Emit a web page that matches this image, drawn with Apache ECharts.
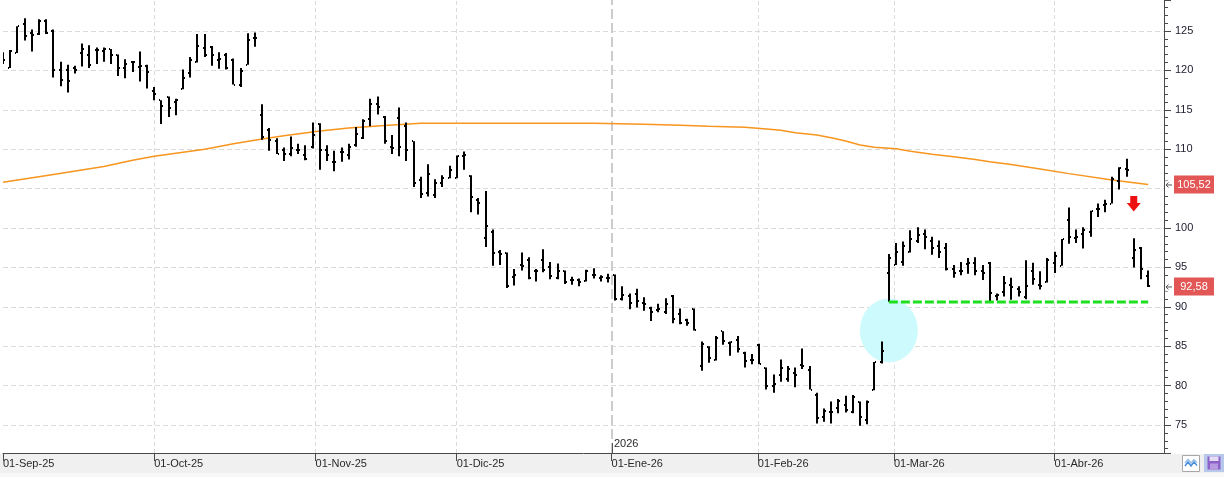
<!DOCTYPE html>
<html>
<head>
<meta charset="utf-8">
<script src="https://cdn.jsdelivr.net/npm/echarts@6/dist/echarts.min.js"></script>
<style>
html, body { margin: 0; padding: 0; background: #fff; }
#band { position: absolute; left: 0; top: 454px; width: 1224px; height: 19px; background: #f0f0f0; }
#band2 { position: absolute; left: 0; top: 473px; width: 1224px; height: 4px; background: #f8f8f8; }
#c { position: absolute; left: 0; top: 0; width: 1224px; height: 477px; }
</style>
</head>
<body>
<div id="band"></div>
<div id="band2"></div>
<div id="c"></div>
<script>
// daily OHLC, one bar per trading day (01-Sep-25 .. 21-Abr-26)
var opens = [
  121.8, 120.3, 122.2, 125.9, 124.7, 124.6, 126.3, 125.0, 120.1, 120.1,
  120.3, 122.2, 122.0, 122.6, 122.4, 122.7, 121.9, 120.3, 121.1, 120.4,
  120.6, 117.4, 116.2, 116.6, 116.0, 117.7, 119.7, 121.1, 122.8, 123.0,
  121.3, 122.0, 121.3, 118.2, 120.7, 124.1, 114.3, 112.4, 111.1, 109.9,
  109.4, 109.9, 109.3, 110.3, 113.2, 109.9, 108.4, 109.7, 109.3, 110.5,
  111.4, 113.8, 115.7, 114.1, 110.3, 113.9, 112.9, 111.0, 106.1, 104.4,
  104.2, 105.7, 106.4, 106.4, 109.1, 106.6, 103.5, 98.7, 99.5, 97.0,
  96.8, 93.8, 95.3, 95.9, 94.5, 95.9, 95.1, 93.6, 94.5, 93.4,
  93.4, 93.3, 94.0, 93.6, 93.6, 94.0, 91.0, 91.4, 91.6, 90.5,
  89.9, 89.6, 89.3, 91.4, 89.1, 88.3, 89.7, 82.5, 84.9, 83.3,
  86.9, 85.4, 85.8, 84.2, 83.2, 85.2, 82.2, 80.0, 81.4, 80.8,
  81.6, 82.6, 82.0, 78.8, 76.0, 76.6, 77.1, 77.5, 76.7, 77.9,
  75.7, 79.4, 83.0, 94.3, 95.3, 95.7, 97.0, 98.3, 99.3, 98.3,
  97.7, 97.4, 94.8, 94.5, 95.4, 95.5, 94.5, 95.5, 91.4, 91.9,
  92.8, 92.3, 91.2, 94.5, 92.8, 93.2, 95.6, 95.2, 101.0, 98.7,
  99.2, 99.5, 102.4, 102.9, 103.1, 106.0, 107.5, 96.2, 97.4, 93.9
]
var highs = [
  122.3, 122.6, 125.6, 126.6, 125.2, 126.5, 126.5, 125.2, 121.1, 120.7,
  120.6, 123.4, 123.2, 122.9, 122.9, 122.7, 122.0, 121.4, 121.2, 122.4,
  120.7, 117.9, 116.2, 116.7, 116.4, 120.1, 121.7, 124.6, 124.6, 123.1,
  122.3, 122.2, 121.5, 120.3, 124.7, 124.8, 115.7, 112.7, 111.4, 110.2,
  111.6, 110.7, 110.5, 113.4, 113.3, 110.5, 109.8, 110.2, 110.7, 112.8,
  113.8, 116.4, 116.7, 114.2, 111.8, 115.3, 113.4, 111.0, 106.5, 108.1,
  106.2, 106.7, 107.9, 109.2, 109.7, 106.7, 103.8, 104.7, 99.8, 97.2,
  96.9, 94.8, 96.9, 96.3, 94.8, 97.3, 95.7, 95.5, 94.6, 93.8,
  93.6, 94.7, 94.9, 94.0, 94.2, 94.1, 92.6, 91.7, 92.3, 91.2,
  90.0, 90.4, 91.1, 91.5, 89.8, 88.5, 89.8, 85.6, 85.0, 86.3,
  86.9, 85.6, 86.3, 84.3, 84.0, 85.3, 82.3, 81.4, 83.3, 82.5,
  82.3, 84.7, 82.5, 79.1, 77.1, 78.0, 78.3, 78.7, 78.8, 78.0,
  78.1, 83.0, 85.6, 96.7, 98.1, 98.3, 99.7, 100.1, 99.8, 98.9,
  98.4, 98.1, 95.3, 95.7, 96.2, 96.3, 95.3, 95.7, 91.7, 93.9,
  93.7, 92.6, 95.9, 95.6, 94.5, 96.2, 97.0, 98.6, 102.6, 99.8,
  100.1, 102.2, 103.1, 103.6, 106.5, 107.7, 108.8, 98.7, 97.6, 94.6
]
var lows = [
  120.8, 120.3, 122.2, 123.8, 122.4, 124.5, 124.6, 119.1, 118.0, 117.2,
  119.6, 120.5, 120.3, 120.8, 121.1, 120.8, 119.3, 119.0, 119.8, 118.6,
  117.7, 116.2, 113.2, 114.1, 114.3, 117.6, 119.1, 121.0, 121.7, 120.6,
  120.2, 120.1, 118.2, 117.9, 120.7, 123.0, 111.2, 109.8, 109.4, 108.5,
  109.1, 109.4, 108.6, 110.1, 107.4, 108.5, 107.2, 108.4, 108.7, 110.3,
  111.3, 112.9, 114.4, 110.7, 109.4, 109.1, 108.5, 105.2, 103.8, 104.0,
  103.8, 105.2, 106.3, 106.3, 107.4, 102.0, 101.7, 97.6, 95.2, 95.3,
  92.4, 92.7, 94.6, 93.5, 93.2, 94.4, 93.5, 93.5, 92.9, 92.8,
  92.6, 93.2, 93.6, 93.2, 93.1, 90.8, 90.8, 89.7, 89.9, 89.5,
  88.2, 89.3, 89.1, 87.9, 87.8, 87.6, 87.0, 81.9, 82.9, 83.2,
  85.2, 83.8, 84.2, 82.3, 82.7, 82.7, 79.5, 79.1, 80.5, 80.5,
  79.8, 82.1, 79.5, 75.2, 75.4, 75.2, 76.5, 76.6, 76.5, 74.9,
  75.1, 79.4, 82.8, 90.65, 95.3, 95.2, 96.9, 98.1, 97.3, 96.6,
  96.2, 94.6, 93.7, 94.0, 94.2, 94.0, 93.4, 90.65, 90.8, 91.3,
  90.9, 91.3, 90.95, 92.8, 92.2, 93.1, 94.3, 95.2, 98.0, 98.1,
  97.4, 98.9, 101.4, 102.0, 103.1, 104.9, 106.5, 95.0, 93.5, 92.5
]
var closes = [
  121.3, 122.5, 125.6, 124.4, 124.5, 126.3, 124.7, 120.1, 118.8, 118.7,
  120.1, 122.7, 120.7, 122.6, 122.7, 121.9, 120.3, 120.8, 121.0, 120.6,
  119.8, 117.0, 115.5, 115.2, 116.2, 119.0, 121.3, 123.1, 122.0, 121.9,
  121.4, 120.3, 118.2, 119.9, 123.9, 124.1, 111.5, 111.2, 109.4, 109.4,
  110.1, 109.9, 108.8, 111.8, 109.9, 109.3, 108.4, 109.7, 110.3, 111.9,
  113.6, 115.7, 115.4, 111.1, 110.2, 110.3, 109.9, 105.7, 104.3, 106.9,
  105.7, 106.3, 107.4, 109.1, 109.3, 103.9, 103.2, 100.2, 96.8, 96.7,
  92.6, 94.0, 95.2, 93.6, 94.6, 94.7, 93.9, 94.5, 93.1, 93.4,
  93.2, 94.5, 94.0, 93.8, 93.6, 91.0, 91.5, 90.5, 90.8, 90.4,
  89.4, 89.7, 90.3, 88.4, 88.0, 88.0, 87.1, 85.3, 83.5, 86.1,
  85.6, 85.5, 84.6, 83.1, 83.3, 82.8, 80.0, 80.2, 82.2, 82.1,
  81.4, 82.5, 79.5, 75.9, 76.8, 76.7, 78.1, 76.9, 78.6, 76.0,
  77.9, 83.0, 84.4, 96.2, 97.0, 97.7, 98.6, 99.1, 98.8, 97.5,
  96.9, 94.8, 94.3, 94.6, 95.5, 94.6, 94.3, 91.7, 91.5, 93.0,
  92.5, 91.9, 92.6, 93.5, 92.6, 95.9, 96.5, 98.6, 98.9, 98.8,
  99.8, 102.1, 102.4, 103.1, 106.2, 107.6, 107.3, 97.2, 94.8, 92.58
]

// moving average, read at these bar indexes
var maIdx = [0, 7, 14, 18, 21, 28, 32, 36, 39, 44, 48, 53, 58, 66, 72, 82, 89, 94, 98, 103,
  106, 108, 110, 113, 115, 117, 119, 121, 124, 126, 129, 132, 135, 137, 140, 144, 148, 154, 159]
var maVal = [105.8, 106.8, 107.8, 108.6, 109.1, 110.0, 110.7, 111.3, 111.7, 112.3, 112.7, 113.0, 113.28, 113.3, 113.3, 113.28, 113.16, 113.03, 112.9, 112.78,
  112.56, 112.4, 112.1, 111.8, 111.46, 111.04, 110.53, 110.24, 110.05, 109.75, 109.35, 109.05, 108.7, 108.4, 108.05, 107.5, 106.9, 106.1, 105.52]

// month starts (in bar units) and their labels
var monthPos = [0, 21, 43.4, 63, 84.5, 104.8, 123.7, 146]
var monthLabels = ['01-Sep-25', '01-Oct-25', '01-Nov-25', '01-Dic-25', '01-Ene-26', '01-Feb-26', '01-Mar-26', '01-Abr-26']
var yearPos = 84.5
var yearLabel = '2026'

// annotations
var supportLevel = 90.62
var supportFrom = 123
var supportTo = 159
var circleAt = [123, 87.0]
var arrowAt = [157, 104.05]
var priceTags = [105.52, 92.58]

var yMin = 71.45
var yMax = 128.93
var xMax = 161.2

var FONT = '"Liberation Sans", Arial, sans-serif'

var barData = opens.map(function (o, i) { return [i, o, highs[i], lows[i], closes[i]] })
var maData = maIdx.map(function (x, i) { return [x, maVal[i]] })

var chart = echarts.init(document.getElementById('c'))

chart.setOption({
  animation: false,
  backgroundColor: 'transparent',
  grid: { left: 0, right: 60, top: 0, bottom: 24 },
  xAxis: {
    type: 'value', min: 0, max: xMax,
    axisLine: { show: true, onZero: false, lineStyle: { color: '#4a4a4a' } },
    axisTick: { show: true, length: 8, customValues: monthPos, lineStyle: { color: '#4a4a4a' } },
    axisLabel: {
      customValues: monthPos, align: 'left', margin: 5,
      color: '#2a2a2a', fontSize: 11, fontFamily: FONT,
      formatter: function (v) {
        for (var k = 0; k < monthPos.length; k++) if (Math.abs(monthPos[k] - v) < 0.01) return monthLabels[k]
        return ''
      }
    },
    splitLine: { show: false }
  },
  yAxis: {
    type: 'value', position: 'right', min: yMin, max: yMax, splitNumber: 11,
    axisLine: { show: true, onZero: false, lineStyle: { color: '#4a4a4a' } },
    axisTick: { show: true, length: 7, lineStyle: { color: '#4a4a4a' } },
    minorTick: { show: true, splitNumber: 5, length: 4, lineStyle: { color: '#4a4a4a' } },
    axisLabel: {
      margin: 11, color: '#222233', fontSize: 11, fontFamily: FONT,
      showMinLabel: false, showMaxLabel: false,
      formatter: function (v) { return Math.abs(v % 5) < 0.001 ? String(v) : '' }
    },
    splitLine: { show: true, showMinLine: false, showMaxLine: false, lineStyle: { color: '#dadada', type: [5, 3] } }
  },
  series: [
    {
      // highlight circle, under the bars
      type: 'custom', z: 2, silent: true,
      data: [circleAt],
      renderItem: function (params, api) {
        var p = api.coord([api.value(0), api.value(1)])
        return {
          type: 'circle', x: p[0], y: p[1], scaleY: 32 / 29,
          shape: { cx: 0, cy: 0, r: 29 },
          style: { fill: '#cdfafc' }
        }
      }
    },
    {
      type: 'line', z: 3, silent: true,
      data: maData, showSymbol: false, symbol: 'none',
      lineStyle: { color: '#f7951e', width: 1.5 },
      markLine: {
        silent: true, z: 1, symbol: ['none', 'none'], animation: false,
        label: { show: false },
        data: monthPos.slice(1).map(function (p) {
          return p === yearPos
            ? { xAxis: p, lineStyle: { color: '#cccccc', width: 2, type: [10, 4] } }
            : { xAxis: p, lineStyle: { color: '#dadada', width: 1, type: [4, 3] } }
        })
      }
    },
    {
      type: 'custom', z: 4, silent: true, clip: true,
      data: barData,
      encode: { x: 0, y: [1, 2, 3, 4] },
      renderItem: function (params, api) {
        var i = api.value(0)
        var o = api.coord([i, api.value(1)])
        var h = api.coord([i, api.value(2)])
        var l = api.coord([i, api.value(3)])
        var c = api.coord([i, api.value(4)])
        var x = Math.round(h[0])
        return {
          type: 'group',
          children: [
            { type: 'rect', shape: { x: x - 1, y: h[1], width: 2, height: Math.max(l[1] - h[1], 1) }, style: { fill: '#000' } },
            { type: 'rect', shape: { x: x - 2, y: Math.round(o[1]) - 1, width: 1, height: 2 }, style: { fill: '#000' } },
            { type: 'rect', shape: { x: x + 1, y: Math.round(c[1]) - 1, width: 1, height: 2 }, style: { fill: '#000' } }
          ]
        }
      }
    },
    {
      type: 'line', z: 5, silent: true,
      data: [[supportFrom, supportLevel], [supportTo, supportLevel]],
      showSymbol: false, symbol: 'none',
      lineStyle: { color: '#1fe01f', width: 3, type: [9, 3] }
    },
    {
      type: 'custom', z: 6, silent: true,
      data: [arrowAt],
      renderItem: function (params, api) {
        var p = api.coord([api.value(0), api.value(1)])
        return {
          type: 'polygon', x: p[0], y: p[1],
          shape: { points: [[-3.5, 0], [3.5, 0], [3.5, 7], [7, 7], [0, 15.5], [-7, 7], [-3.5, 7]] },
          style: { fill: '#ee1111' }
        }
      }
    }
  ]
})

var g = []
priceTags.forEach(function (v) {
  var y = chart.convertToPixel({ yAxisIndex: 0 }, v)
  g.push({ type: 'rect', z: 100, shape: { x: 1174, y: y - 9, width: 40, height: 18 }, style: { fill: '#e25656' } })
  g.push({
    type: 'text', z: 101, x: 1194, y: y,
    style: { text: v.toFixed(2).replace('.', ','), fill: '#fff', font: '11px ' + FONT, align: 'center', verticalAlign: 'middle', textAlign: 'center', textVerticalAlign: 'middle' }
  })
  g.push({ type: 'rect', z: 100, shape: { x: 1165, y: y - 4, width: 8, height: 9 }, style: { fill: '#fff' } })
  g.push({ type: 'line', z: 101, shape: { x1: 1166, y1: y + 0.5, x2: 1172, y2: y + 0.5 }, style: { stroke: '#555', lineWidth: 1 } })
  g.push({ type: 'polyline', z: 101, shape: { points: [[1168.5, y - 2], [1166, y + 0.5], [1168.5, y + 3]] }, style: { stroke: '#555', lineWidth: 1, fill: null } })
})
var yx = Math.round(chart.convertToPixel({ xAxisIndex: 0 }, yearPos))
g.push({ type: 'line', z: 100, shape: { x1: yx + 0.5, y1: 443, x2: yx + 0.5, y2: 453 }, style: { stroke: '#555', lineWidth: 1 } })
g.push({
  type: 'text', z: 100, x: yx + 2, y: 444,
  style: { text: yearLabel, fill: '#2a2a2a', font: '11px ' + FONT, align: 'left', verticalAlign: 'middle', textAlign: 'left', textVerticalAlign: 'middle' }
})
// toolbar icons, bottom right
g.push({ type: 'rect', z: 100, shape: { x: 1182.5, y: 455.5, width: 17, height: 16 }, style: { fill: '#fff', stroke: '#a8a8a8', lineWidth: 1 } })
g.push({ type: 'polyline', z: 101, shape: { points: [[1185, 463], [1188, 459.5], [1191, 463], [1194, 459.5], [1197, 462.5]] }, style: { stroke: '#9ec4ee', lineWidth: 1.5, fill: null } })
g.push({ type: 'polyline', z: 101, shape: { points: [[1185, 466], [1188, 462], [1191, 466], [1194, 462], [1197, 465.5]] }, style: { stroke: '#4a8fd8', lineWidth: 1.5, fill: null } })
g.push({ type: 'rect', z: 100, shape: { x: 1204, y: 454, width: 20, height: 18 }, style: { fill: '#b8c8ea' } })
g.push({ type: 'rect', z: 101, shape: { x: 1207.5, y: 456.5, width: 13, height: 13 }, style: { fill: '#8c62c8' } })
g.push({ type: 'rect', z: 102, shape: { x: 1209.5, y: 456.5, width: 9, height: 4.5 }, style: { fill: '#e4dcf4' } })
g.push({ type: 'rect', z: 102, shape: { x: 1210, y: 463.5, width: 8, height: 6 }, style: { fill: '#b89ae0' } })
chart.setOption({ graphic: g })
</script>
</body>
</html>
